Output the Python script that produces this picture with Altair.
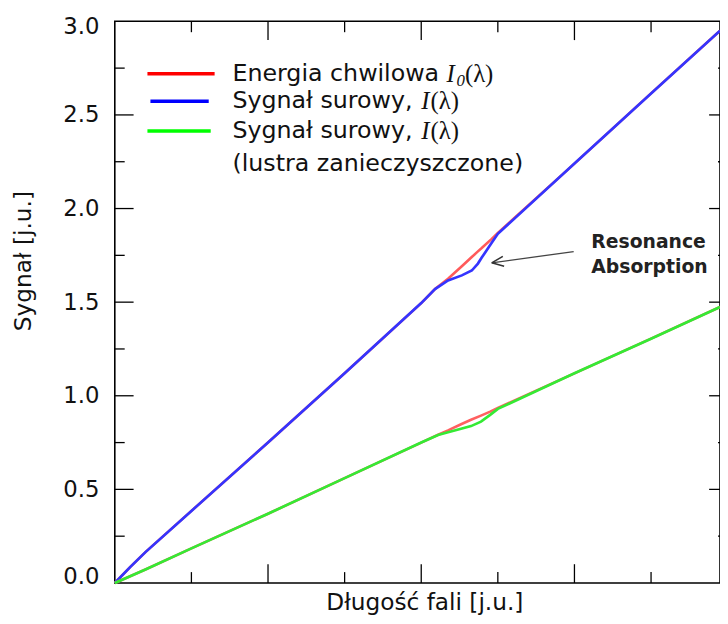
import altair as alt
import pandas as pd

# ---- data ----
x_upper = [0, 0.2, 0.4, 1, 2, 3, 4, 4.18, 4.35, 4.53, 4.66, 4.74, 4.79, 4.92, 5.0, 6, 7, 7.9]
i0_upper = [0, 0.085, 0.165, 0.385, 0.75, 1.12, 1.495, 1.57, 1.625, 1.692, 1.741, 1.771, 1.789, 1.838, 1.87, 2.24, 2.615, 2.95]
i_upper = [0, 0.085, 0.165, 0.385, 0.75, 1.12, 1.495, 1.57, 1.616, 1.643, 1.669, 1.706, 1.738, 1.817, 1.865, 2.24, 2.615, 2.95]

x_lower = [0, 0.4, 1, 2, 3, 4, 4.22, 4.35, 4.52, 4.65, 4.78, 4.9, 5.0, 6, 7, 7.9]
i0_lower = [0, 0.072, 0.185, 0.37, 0.56, 0.75, 0.792, 0.815, 0.848, 0.872, 0.894, 0.915, 0.935, 1.12, 1.305, 1.474]
i_lower = [0, 0.072, 0.185, 0.37, 0.56, 0.75, 0.79, 0.805, 0.824, 0.838, 0.862, 0.898, 0.93, 1.12, 1.305, 1.474]

y_labels = [0.0, 0.5, 1.0, 1.5, 2.0, 2.5, 3.0]
y_major = [0.5, 1.0, 1.5, 2.0, 2.5]
y_minor = [0.25, 0.75, 1.25, 1.75, 2.25, 2.75]
x_major = [2, 4, 6]
x_minor = [1, 3, 5, 7]

legend_labels = ["Energia chwilowa", "Sygnał surowy,", "Sygnał surowy,", "(lustra zanieczyszczone)"]
legend_label_y = [2.72, 2.573, 2.414, 2.235]
legend_colors = ["#ff0000", "#0000ff", "#00ff00"]
legend_x1 = [0.426, 0.465, 0.426]
legend_x2 = [1.303, 1.226, 1.252]
legend_line_y = [2.72, 2.573, 2.414]
legend_text_x = 1.535
math_I_x = [4.33, 4.0, 4.0]
math_sub_x = [4.46]
math_l_x = [4.57, 4.12, 4.12]

annot_lines = ["Resonance", "Absorption"]
annot_x = 6.22
annot_y = [1.823, 1.685]
arrow_tail = (5.99, 1.77)
arrow_tip = (4.92, 1.71)

W, H = 612, 568
FONT = "DejaVu Sans"
xscale = alt.Scale(domain=[0, 7.9], nice=False, zero=False)
yscale = alt.Scale(domain=[0, 3], nice=False, zero=False)

XA = alt.Axis(labels=False, ticks=False, domain=False, grid=False,
              title="Długość fali [j.u.]", titleFont=FONT, titleFontSize=23.5,
              titleFontWeight="normal", titleColor="#111", titleX=313, titleY=27,
              titleBaseline="alphabetic", titleAlign="center")
YA = alt.Axis(values=y_labels, format=".1f", ticks=False, domain=False, grid=False,
              labelFont=FONT, labelFontSize=23, labelColor="#111", labelPadding=16,
              labelFlush=True, labelFlushOffset=6,
              title="Sygnał [j.u.]", titleFont=FONT, titleFontSize=23.5,
              titleFontWeight="normal", titleColor="#111", titleX=-85, titleY=242,
              titleAngle=270, titleBaseline="alphabetic", titleAlign="center")


def X(f="x"):
    return alt.X(f"{f}:Q", scale=xscale, axis=XA)


def Y(f="y"):
    return alt.Y(f"{f}:Q", scale=yscale, axis=YA)


def line(xs, ys, color, width=2.6):
    df = pd.DataFrame({"x": xs, "y": ys})
    return alt.Chart(df).mark_line(color=color, strokeWidth=width).encode(x=X(), y=Y())


layers = [
    line(x_upper, i0_upper, "#ff5a5a"),
    line(x_upper, i_upper, "#3434ff", 2.7),
    line(x_lower, i0_lower, "#ff6060"),
    line(x_lower, i_lower, "#34ea34", 2.7),
]


# ---- ticks pointing inward ----
def yticks(vals, x0, x1):
    return alt.Chart(pd.DataFrame({"v": vals})).mark_rule(color="black", strokeWidth=1.3).encode(
        y=Y("v"), x=alt.value(x0), x2=alt.value(x1))


def xticks(vals, y0, y1):
    return alt.Chart(pd.DataFrame({"v": vals})).mark_rule(color="black", strokeWidth=1.3).encode(
        x=X("v"), y=alt.value(y0), y2=alt.value(y1))


layers += [
    yticks(y_major, 0, 19), yticks(y_minor, 0, 10),
    yticks(y_major, W - 11, W), yticks(y_minor, W - 2, W),
    xticks(x_major, H, H - 19), xticks(x_minor, H, H - 11),
    xticks(x_major, 0, 19), xticks(x_minor, 0, 11),
]

# ---- legend ----
leg = pd.DataFrame({"x1": legend_x1, "x2": legend_x2, "y": legend_line_y, "c": legend_colors})
layers.append(alt.Chart(leg).mark_rule(strokeWidth=3.4).encode(
    x=X("x1"), x2="x2:Q", y=Y("y"), color=alt.Color("c:N", scale=None)))

legt = pd.DataFrame({"t": legend_labels, "y": legend_label_y, "x": [legend_text_x] * 4})
layers.append(alt.Chart(legt).mark_text(align="left", baseline="middle", font=FONT, fontSize=24,
                                         color="#111").encode(x=X(), y=Y(), text="t:N"))

math_I = pd.DataFrame({"x": math_I_x, "y": legend_line_y})
layers.append(alt.Chart(math_I).mark_text(align="left", baseline="middle", font="Liberation Serif",
                                          fontStyle="italic", fontSize=25, color="#111", text="I"
                                          ).encode(x=X(), y=Y()))
math_sub = pd.DataFrame({"x": math_sub_x, "y": [legend_line_y[0]]})
layers.append(alt.Chart(math_sub).mark_text(align="left", baseline="middle", font="Liberation Serif",
                                            fontStyle="italic", fontSize=17, color="#111", text="0",
                                            dy=7).encode(x=X(), y=Y()))
math_l = pd.DataFrame({"x": math_l_x, "y": legend_line_y})
layers.append(alt.Chart(math_l).mark_text(align="left", baseline="middle", font="Liberation Serif",
                                          fontSize=25, color="#111", text="(λ)"
                                          ).encode(x=X(), y=Y()))

# ---- annotation ----
arr = pd.DataFrame({"x": [arrow_tail[0]], "y": [arrow_tail[1]], "x2": [arrow_tip[0]], "y2": [arrow_tip[1]]})
layers.append(alt.Chart(arr).mark_rule(color="#444", strokeWidth=1.3).encode(
    x=X(), y=Y(), x2="x2:Q", y2="y2:Q"))
head = pd.DataFrame({"x": [arrow_tip[0]], "y": [arrow_tip[1]]})
layers.append(alt.Chart(head).mark_point(shape="M 0 0 L 1 -0.42 M 0 0 L 1 0.42", size=576,
                                         angle=352.5, filled=False, color="#333",
                                         strokeWidth=1.6, opacity=1).encode(x=X(), y=Y()))
ann = pd.DataFrame({"t": annot_lines, "y": annot_y, "x": [annot_x] * 2})
layers.append(alt.Chart(ann).mark_text(align="left", baseline="middle", font=FONT, fontSize=19,
                                       fontWeight="bold", color="#222").encode(x=X(), y=Y(), text="t:N"))

chart = alt.layer(*layers).properties(
    width=W, height=H,
    autosize=alt.AutoSizeParams(type="none"),
    padding={"left": 108, "top": 10, "right": 0, "bottom": 38},
).configure(background="white").configure_view(stroke="black", strokeWidth=1.6)

chart.save("out.html", embed_options={"renderer": "svg", "actions": False})
